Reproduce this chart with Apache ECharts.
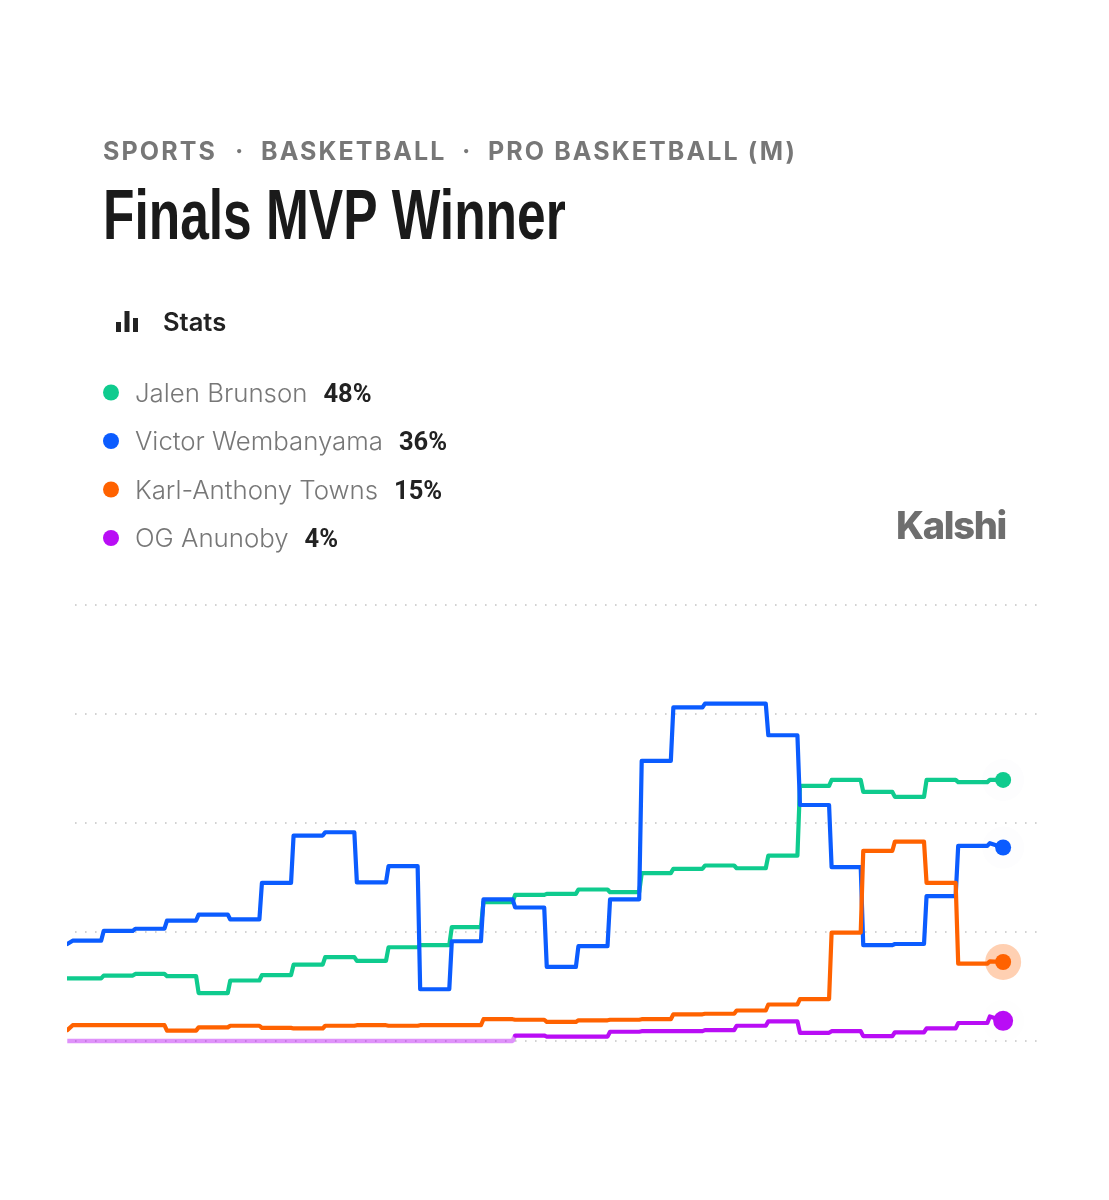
<!DOCTYPE html>
<html>
<head>
<meta charset="utf-8">
<style>html,body{margin:0;padding:0;background:#fff}#c{width:1109px;height:1200px}</style>
<script src="https://cdn.jsdelivr.net/npm/echarts@6/dist/echarts.min.js"></script>
</head>
<body>
<div id="c"></div>
<script>
var brunson = [11.5,11.5,12.0,12.3,11.9,8.8,11.1,12.1,14.0,15.4,14.7,17.2,17.6,20.9,25.5,26.8,27.0,27.8,27.3,30.8,31.6,32.2,31.7,34.0,46.8,47.9,45.7,44.8,47.9,47.5,47.9];
var wemby   = [17.8,18.4,20.2,20.6,22.1,23.2,22.3,29.0,37.7,38.3,29.1,32.1,9.5,18.3,26.0,24.5,13.6,17.4,26.0,51.4,61.2,61.9,61.9,56.1,43.3,31.9,17.6,17.8,26.6,35.8,36.3];
var towns   = [2.0,2.9,2.9,2.9,1.9,2.5,2.8,2.4,2.3,2.8,2.9,2.8,2.9,2.9,4.0,3.9,3.5,3.8,3.9,4.0,4.9,5.0,5.6,6.7,7.7,19.9,34.9,36.6,29.0,14.2,14.6];
var anunoby = [0,0,0,0,0,0,0,0,0,0,0,0,0,0,0,1.0,0.8,0.8,1.7,1.8,1.8,2.0,2.8,3.6,1.5,1.8,0.9,1.6,2.3,3.3,4.5];
var lastValues = [47.9, 35.5, 14.5, 3.7];
var names = ['Jalen Brunson','Victor Wembanyama','Karl-Anthony Towns','OG Anunoby'];
var shownPct = ['48%','36%','15%','4%'];
var colors = ['#0fcb8e','#0b5cff','#ff6200','#b90df5'];
var yTicks = [0,20,40,60,80];
var crumbs = ['SPORTS','BASKETBALL','PRO BASKETBALL (M)'];

var spaced = {'SPORTS':2.1,'BASKETBALL':2.1,'PRO BASKETBALL (M)':2.1,'Kalshi':-1.3};
var origFill = CanvasRenderingContext2D.prototype.fillText;
CanvasRenderingContext2D.prototype.fillText = function(t,x,y,m){
  var ls = spaced[t];
  if (ls) { this.letterSpacing = ls+'px'; }
  var r = m===undefined ? origFill.call(this,t,x,y) : origFill.call(this,t,x,y,m);
  if (ls) { this.letterSpacing = '0px'; }
  return r;
};

function steps(vals,last){
  var p=[[-0.07,vals[0]],[0.1,vals[1]]];
  for(var k=1;k<vals.length-1;k++){ p.push([k,vals[k]]); p.push([k+0.08,vals[k+1]]); }
  p.push([29.5,last]);
  return p;
}
function ends(i,haloSize,haloOpacity,size){
  return {symbol:'circle',silent:true,animation:false,label:{show:false},data:[
    {coord:[29.5,lastValues[i]],symbolSize:haloSize,itemStyle:{color:i===2?colors[i]:'#5050a0',opacity:haloOpacity}},
    {coord:[29.5,lastValues[i]],symbolSize:size,itemStyle:{color:colors[i]}}
  ]};
}
function line(i,data,extra){
  var s={name:names[i],type:'line',data:data,symbol:'none',animation:false,silent:true,clip:false,
    lineStyle:{color:colors[i],width:4.2,join:'round',cap:'round'},itemStyle:{color:colors[i]},z:2+i};
  for(var k in extra){s[k]=extra[k];}
  return s;
}
var purple = steps(anunoby,lastValues[3]);
var paleEnd = 0; while(purple[paleEnd][0]<14.08){paleEnd++;}

var txt=function(text,x,y,font,fill,sx){return {type:'text',x:x,y:y,scaleX:sx||1,style:{text:text,font:font,fill:fill,textAlign:'left',textVerticalAlign:'middle'},silent:true};};
var crumbFont='700 25px Inter';
var graphics=[
  txt(crumbs[0],103,152,crumbFont,'#777777'),
  txt('·',235,152,crumbFont,'#777777'),
  txt(crumbs[1],261,152,crumbFont,'#777777'),
  txt('·',462,152,crumbFont,'#777777'),
  txt(crumbs[2],488,152,crumbFont,'#777777'),
  txt('Finals MVP Winner',103,220,'700 70px "Liberation Sans"','#1a1a1a',0.735),
  txt('Stats',163,323,'600 25.5px Inter','#222222'),
  txt('Kalshi',896,528,'800 38px Inter','#6e6e6e'),
  {type:'rect',shape:{x:116,y:322,width:5,height:10},style:{fill:'#222'},silent:true},
  {type:'rect',shape:{x:124.5,y:311,width:5,height:21},style:{fill:'#222'},silent:true},
  {type:'rect',shape:{x:133,y:318,width:5,height:14},style:{fill:'#222'},silent:true}
];

var chart=echarts.init(document.getElementById('c'),null,{renderer:'canvas'});
chart.setOption({
  animation:false,backgroundColor:'#ffffff',
  grid:{left:69.5,right:72,top:605,bottom:159},
  xAxis:{type:'value',min:0,max:30.57,show:false,splitLine:{show:false}},
  yAxis:{type:'value',min:yTicks[0],max:yTicks[yTicks.length-1],interval:20,
    axisLine:{show:false},axisTick:{show:false},axisLabel:{show:false},
    splitLine:{show:true,lineStyle:{color:'#c4c4c4',width:1.6,type:[1.6,8.4],dashOffset:4.5}}},
  legend:{show:true,orient:'vertical',left:98,top:376,icon:'circle',itemWidth:16,itemHeight:16,itemGap:21,
    selectedMode:false,data:names,
    formatter:function(n){return '{n|'+n+'}{v|'+shownPct[names.indexOf(n)]+'}';},
    textStyle:{rich:{
      n:{fontFamily:'Inter',fontSize:25.8,fontWeight:300,color:'#777777',padding:[3,16,0,11],height:31},
      v:{fontFamily:'Roboto',fontSize:25.5,fontWeight:700,color:'#222222',padding:[6,0,0,0],height:31}}}},
  tooltip:{show:false},
  series:[
    line(0,steps(brunson,lastValues[0]),{markPoint:ends(0,42,0.012,16)}),
    line(1,steps(wemby,lastValues[1]),{markPoint:ends(1,42,0.012,16)}),
    line(3,purple.slice(0,paleEnd+1),{lineStyle:{color:colors[3],width:4.5,opacity:0.45},z:2}),
    line(3,purple.slice(paleEnd),{markPoint:ends(3,42,0.006,20),z:3}),
    line(2,steps(towns,lastValues[2]),{markPoint:ends(2,36,0.3,16)})
  ],
  graphic:{elements:graphics}
});
</script>
</body>
</html>
